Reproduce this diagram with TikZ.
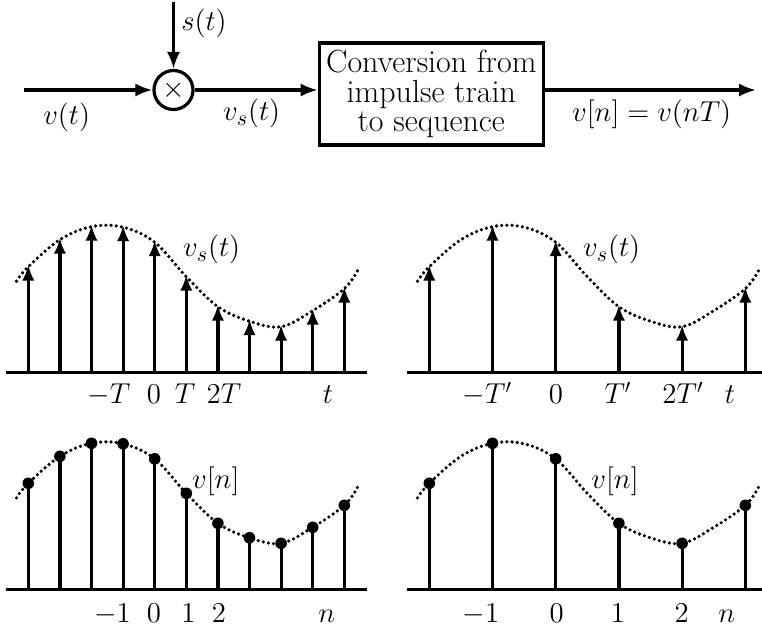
\documentclass[tikz,border=0pt]{standalone}
\usetikzlibrary{arrows.meta}
\newcommand{\drawenv}{\draw[envelope] plot[smooth,tension=0.6] coordinates {(16.5,-91.5) (28.3,-106) (59.9,-133) (91.5,-146) (123.1,-145.5) (154.7,-130.5) (186.3,-96) (217.9,-66) (249.5,-51.5) (281.1,-46) (312.7,-62) (344.3,-84) (357.5,-102)};}
\begin{document}
\begin{tikzpicture}[x=0.5pt,y=-0.5pt,
  arr/.style={line width=1.6pt,-{Latex[length=8.5pt,width=6.6pt]}},
  stemarr/.style={line width=1.6pt,-{Latex[length=8pt,width=6.2pt]}},
  stemline/.style={line width=1.6pt},
  axisline/.style={line width=1.6pt},
  envelope/.style={line width=1.8pt,dash pattern=on 0pt off 2.6pt,line cap=round},
  lab/.style={font=\fontsize{15.3}{16}\selectfont,anchor=base,inner sep=0pt},
  tick/.style={font=\fontsize{14}{14}\selectfont,anchor=base,inner sep=0pt},
]
\useasboundingbox (0,0) rectangle (762,627);

% ---------- block diagram ----------
\coordinate (in) at (24,90);
\coordinate (stop) at (173.5,2);
\coordinate (out) at (756,90);
\node[circle,draw,line width=1.6pt,minimum size=19.5pt,inner sep=0pt,
      font=\fontsize{15}{15}\selectfont] (mult) at (173.5,90) {$\times$};
\node[draw,line width=1.6pt,minimum width=112pt,minimum height=51pt,inner sep=0pt,
      align=center,font=\fontsize{16}{14.8}\selectfont] (box) at (431.3,94)
      {Conversion from\\impulse train\\to sequence};
\draw[arr] (in) -- (mult);
\draw[arr] (stop) -- (mult);
\draw[arr] (mult) -- (mult -| box.west);
\draw[arr] (box.east |- mult) -- (out);
\node[lab] (vt) at (66.7,124) {$v(t)$};
\node[lab] (st) at (204,30.7) {$s(t)$};
\node[lab] (vst) at (251.7,120.7) {$v_s(t)$};
\node[lab] (vn) at (651.7,121.7) {$v[n]=v(nT)$};

% ---------- top-left: impulse train ----------
\begin{scope}[shift={(0,372.7)}]
  \drawenv
  \draw[axisline] (6,0) -- (366.7,0);
  \foreach \x/\h in {28.3/106,59.9/133,91.5/146,123.1/145.5,154.7/130.5,186.3/96,217.9/66,249.5/51.5,281.1/46,312.7/62,344.3/84}
    \draw[stemarr] (\x,0) -- (\x,-\h-2);
\end{scope}
\node[lab] (vsl) at (211.7,256.7) {$v_s(t)$};
\node[tick] (tl1) at (109,403.5) {$-T$};
\node[tick] (tl2) at (154,403.5) {$0$};
\node[tick] (tl3) at (185,403.5) {$T$};
\node[tick] (tl4) at (224,403.5) {$2T$};
\node[tick] (tl5) at (328,403.5) {$t$};

% ---------- top-right ----------
\begin{scope}[shift={(401,372.7)}]
  \drawenv
  \draw[axisline] (5.7,0) -- (361,0);
  \foreach \x/\h in {28.3/106,91.5/146,154.7/130.5,217.9/66,281.1/46,344.3/84}
    \draw[stemarr] (\x,0) -- (\x,-\h-2);
\end{scope}
\node[lab] (vsr) at (611.7,256.7) {$v_s(t)$};
\node[tick] (tr1) at (487.5,403.5) {$-T'$};
\node[tick] (tr2) at (555.8,403.5) {$0$};
\node[tick] (tr3) at (618,403.5) {$T'$};
\node[tick] (tr4) at (683,403.5) {$2T'$};
\node[tick] (tr5) at (730,403.5) {$t$};

% ---------- bottom-left: sequence ----------
\begin{scope}[shift={(0,589.3)}]
  \drawenv
  \draw[axisline] (6,0) -- (366.7,0);
  \foreach \x/\h in {28.3/106,59.9/133,91.5/146,123.1/145.5,154.7/130.5,186.3/96,217.9/66,249.5/51.5,281.1/46,312.7/62,344.3/84}{
    \draw[stemline] (\x,0) -- (\x,-\h);
    \fill (\x,-\h) circle[radius=2.9pt];
  }
\end{scope}
\node[lab] (vnl) at (215.8,488.3) {$v[n]$};
\node[tick] (bl1) at (112.5,622) {$-1$};
\node[tick] (bl2) at (154,622) {$0$};
\node[tick] (bl3) at (188.3,622) {$1$};
\node[tick] (bl4) at (219,622) {$2$};
\node[tick] (bl5) at (326.7,622) {$n$};

% ---------- bottom-right ----------
\begin{scope}[shift={(401,589.3)}]
  \drawenv
  \draw[axisline] (5.7,0) -- (361,0);
  \foreach \x/\h in {28.3/106,91.5/146,154.7/130.5,217.9/66,281.1/46,344.3/84}{
    \draw[stemline] (\x,0) -- (\x,-\h);
    \fill (\x,-\h) circle[radius=2.9pt];
  }
\end{scope}
\node[lab] (vnr) at (615,488.3) {$v[n]$};
\node[tick] (br1) at (481,622) {$-1$};
\node[tick] (br2) at (556.7,622) {$0$};
\node[tick] (br3) at (618,622) {$1$};
\node[tick] (br4) at (681.7,622) {$2$};
\node[tick] (br5) at (726.7,622) {$n$};
\end{tikzpicture}
\end{document}
